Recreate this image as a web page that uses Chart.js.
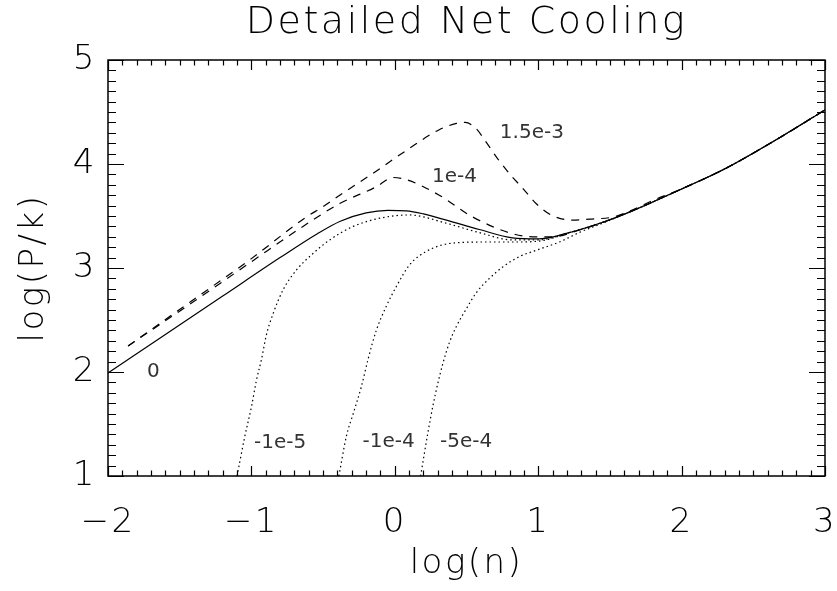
<!DOCTYPE html>
<html>
<head>
<meta charset="utf-8">
<title>Detailed Net Cooling</title>
<script src="https://cdn.jsdelivr.net/npm/chart.js@4.4.0/dist/chart.umd.min.js"></script>
<style>
  html, body { margin: 0; padding: 0; background: #fff; }
</style>
</head>
<body>
<canvas id="cooling" width="837" height="591"></canvas>
<script>
// equilibrium tracks, log(n) vs log(P/k); labels are the net heating term
const tailX = [1.64, 2.0, 2.31, 2.68, 3.0];
const tailY = [3.54, 3.76, 3.96, 4.25, 4.52];

const zeroX = [-2, -1.6, -1.2, -0.8, -0.54, -0.38, -0.2, -0.05, 0.08, 0.2, 0.36, 0.59, 0.82, 1.0, 1.19, 1.43].concat(tailX);
const zeroY = [1.99, 2.36, 2.73, 3.10, 3.33, 3.45, 3.53, 3.555, 3.55, 3.52, 3.46, 3.37, 3.29, 3.28, 3.33, 3.43].concat(tailY);

const heat1e4X = [-1.86, -1.4, -1.0, -0.64, -0.384, -0.13, -0.013, 0.08, 0.31, 0.544, 0.82, 0.96, 1.1, 1.3, 1.43].concat(tailX);
const heat1e4Y = [2.25, 2.68, 3.06, 3.40, 3.62, 3.78, 3.87, 3.85, 3.70, 3.49, 3.33, 3.30, 3.30, 3.37, 3.43].concat(tailY);

const heat15e3X = [-1.86, -1.42, -1.0, -0.628, -0.5, -0.384, -0.152, 0.08, 0.31, 0.43, 0.49, 0.567, 0.637, 0.718, 0.81, 0.89, 0.985, 1.09, 1.24, 1.36, 1.52, 1.66, 1.8, 2.0, 2.31, 2.68, 3.0];
const heat15e3Y = [2.25, 2.68, 3.09, 3.48, 3.59, 3.70, 3.91, 4.13, 4.33, 4.39, 4.40, 4.34, 4.21, 4.05, 3.89, 3.77, 3.62, 3.51, 3.46, 3.47, 3.49, 3.56, 3.65, 3.76, 3.96, 4.25, 4.52];

const cool1e5X = [-1.10, -1.046, -0.999, -0.965, -0.93, -0.895, -0.849, -0.779, -0.686, -0.57, -0.454, -0.29, -0.1, 0.1, 0.36, 0.59, 0.82, 1.0, 1.19, 1.43].concat(tailX);
const cool1e5Y = [1.0, 1.38, 1.67, 1.92, 2.12, 2.36, 2.56, 2.79, 2.98, 3.14, 3.27, 3.40, 3.48, 3.51, 3.43, 3.34, 3.27, 3.27, 3.33, 3.43].concat(tailY);

const cool1e4X = [-0.39, -0.338, -0.29, -0.233, -0.187, -0.129, -0.06, 0.01, 0.103, 0.22, 0.405, 0.64, 0.87, 1.055, 1.19, 1.43].concat(tailX);
const cool1e4Y = [1.0, 1.38, 1.60, 1.86, 2.12, 2.40, 2.63, 2.82, 3.03, 3.16, 3.24, 3.25, 3.25, 3.27, 3.33, 3.43].concat(tailY);

const cool5e4X = [0.18, 0.23, 0.265, 0.30, 0.335, 0.38, 0.43, 0.50, 0.567, 0.66, 0.753, 0.87, 0.985, 1.148, 1.3, 1.43].concat(tailX);
const cool5e4Y = [1.0, 1.41, 1.67, 1.89, 2.08, 2.28, 2.44, 2.61, 2.76, 2.90, 3.01, 3.11, 3.17, 3.25, 3.35, 3.42].concat(tailY);

// curve tags and where they sit (data units)
const tagText = ['0', '1e-4', '1.5e-3', '-1e-5', '-1e-4', '-5e-4'];
const tagX = [-1.683, 0.416, 0.956, -0.80, -0.043, 0.497];
const tagY = [2.0, 3.88, 4.30, 1.32, 1.33, 1.33];

const xTicks = [-2, -1, 0, 1, 2, 3];
const yTicks = [1, 2, 3, 4, 5];

const pts = (xs, ys) => xs.map((x, i) => ({ x: x, y: ys[i] }));

const thinFont = 'DejaVu Sans';

function track(data, dash) {
    return {
        data: data,
        borderColor: '#000',
        borderWidth: 1.2,
        borderDash: dash,
        pointRadius: 0,
        fill: false,
        cubicInterpolationMode: 'monotone'
    };
}

// the vector-style lettering is widely spaced; title and axes only
const wideLetters = {
    id: 'wideLetters',
    beforeDraw(chart) { chart.ctx.letterSpacing = '2.5px'; },
    beforeDatasetsDraw(chart) { chart.ctx.letterSpacing = '0px'; }
};

// inward ticks on all four sides, the frame and the curve tags
const frameTicks = {
    id: 'frameTicks',
    afterDatasetsDraw(chart) {
        const { ctx, chartArea: a, scales: { x, y } } = chart;
        ctx.save();
        ctx.strokeStyle = '#000';
        ctx.lineWidth = 1.2;
        ctx.beginPath();
        for (let i = 0; i <= 50; i++) {
            const px = Math.round(x.getPixelForValue(xTicks[0] + i / 10)) + 0.5;
            const len = i % 10 === 0 ? 10 : 5.5;
            ctx.moveTo(px, a.bottom); ctx.lineTo(px, a.bottom - len);
            ctx.moveTo(px, a.top); ctx.lineTo(px, a.top + len);
        }
        for (let i = 0; i <= 40; i++) {
            const py = Math.round(y.getPixelForValue(yTicks[0] + i / 10)) + 0.5;
            const len = i % 10 === 0 ? 16 : 8;
            ctx.moveTo(a.left, py); ctx.lineTo(a.left + len, py);
            ctx.moveTo(a.right, py); ctx.lineTo(a.right - len, py);
        }
        ctx.stroke();
        ctx.lineWidth = 1.5;
        ctx.strokeRect(a.left, a.top, a.width, a.height);

        ctx.font = '20px "DejaVu Sans", sans-serif';
        ctx.fillStyle = '#333';
        ctx.textAlign = 'center';
        ctx.textBaseline = 'middle';
        tagText.forEach((t, i) => {
            ctx.fillText(t, x.getPixelForValue(tagX[i]), y.getPixelForValue(tagY[i]));
        });
        ctx.restore();
    }
};

new Chart(document.getElementById('cooling'), {
    type: 'line',
    data: {
        datasets: [
            track(pts(zeroX, zeroY), []),
            track(pts(heat1e4X, heat1e4Y), [8, 7]),
            track(pts(heat15e3X, heat15e3Y), [8, 7]),
            track(pts(cool1e5X, cool1e5Y), [1.5, 3]),
            track(pts(cool1e4X, cool1e4Y), [1.5, 3]),
            track(pts(cool5e4X, cool5e4Y), [1.5, 3])
        ]
    },
    options: {
        responsive: false,
        animation: false,
        layout: { padding: { top: 0, right: 12, left: 0, bottom: 0 } },
        plugins: {
            legend: { display: false },
            tooltip: { enabled: false },
            title: {
                display: true,
                text: 'Detailed Net Cooling',
                fullSize: false,
                color: '#000',
                font: { family: thinFont, size: 38, weight: '200' },
                padding: { top: 0, bottom: 14.4 }
            }
        },
        scales: {
            x: {
                type: 'linear',
                min: -2,
                max: 3,
                grid: { display: false, drawTicks: false },
                border: { display: false },
                afterBuildTicks: s => { s.ticks = xTicks.map(v => ({ value: v })); },
                afterFit: s => { s.height = 115; s.paddingLeft = 0; s.paddingRight = 0; },
                ticks: {
                    color: '#000',
                    padding: 27,
                    font: { family: thinFont, size: 34, weight: '200' },
                    callback: v => v < 0 ? '\u2212' + Math.abs(v) : String(v)
                },
                title: {
                    display: true,
                    text: 'log(n)',
                    color: '#000',
                    font: { family: thinFont, size: 34, weight: '200' },
                    padding: { top: 0, bottom: 6 }
                }
            },
            y: {
                type: 'linear',
                min: 1,
                max: 5,
                grid: { display: false, drawTicks: false },
                border: { display: false },
                afterBuildTicks: s => { s.ticks = yTicks.map(v => ({ value: v })); },
                afterFit: s => { s.width = 108; s.paddingTop = 0; s.paddingBottom = 0; },
                ticks: {
                    color: '#000',
                    padding: 11,
                    font: { family: thinFont, size: 34, weight: '200' }
                },
                title: {
                    display: true,
                    text: 'log(P/k)',
                    color: '#000',
                    font: { family: thinFont, size: 34, weight: '200' },
                    padding: { top: 14, bottom: 0 }
                }
            }
        }
    },
    plugins: [wideLetters, frameTicks]
});
</script>
</body>
</html>
